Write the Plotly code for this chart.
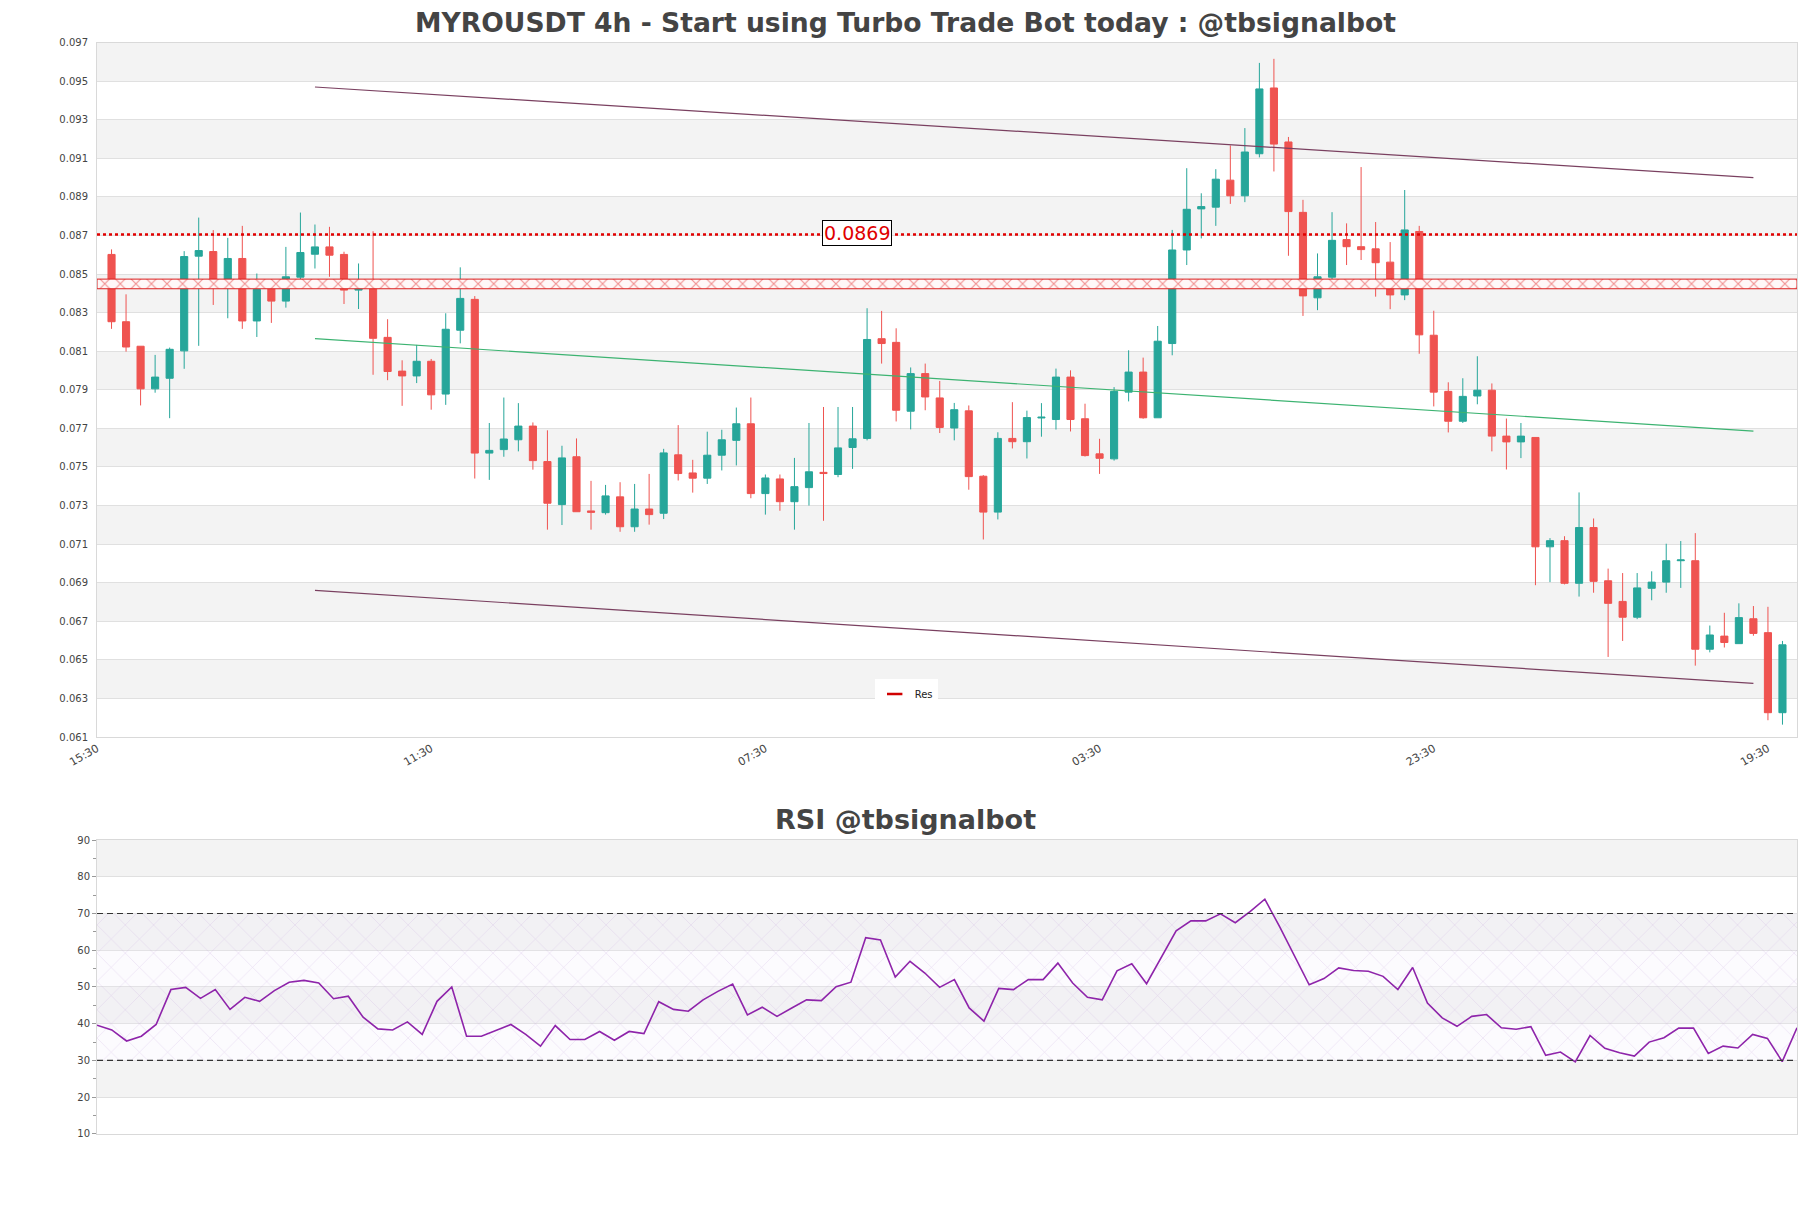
import plotly.graph_objects as go

# ---------------- data ----------------
opens = [0.08602, 0.08253, 0.08126, 0.07905, 0.0796, 0.08102, 0.08593, 0.08617, 0.08448, 0.08581,
         0.08257, 0.08426, 0.0836, 0.08484, 0.08603, 0.08641, 0.08602, 0.08417, 0.08438, 0.08172,
         0.07997, 0.07972, 0.08048, 0.07878, 0.08209, 0.08369, 0.07572, 0.0759, 0.07641, 0.07712,
         0.07528, 0.07305, 0.07553, 0.07272, 0.07263, 0.07345, 0.0719, 0.07282, 0.0726, 0.07563,
         0.07469, 0.07442, 0.07561, 0.07638, 0.07724, 0.07362, 0.07438, 0.0732, 0.07393, 0.07472,
         0.07461, 0.07601, 0.07648, 0.08165, 0.08146, 0.07789, 0.07984, 0.07858, 0.07702, 0.07791,
         0.07452, 0.07266, 0.07648, 0.07631, 0.07754, 0.07746, 0.07966, 0.0775, 0.07568, 0.07542,
         0.07888, 0.07992, 0.07755, 0.0814, 0.08625, 0.08838, 0.08847, 0.08987, 0.08906, 0.09124,
         0.09465, 0.09185, 0.0882, 0.08377, 0.08484, 0.08679, 0.08642, 0.08631, 0.08562, 0.08392,
         0.08721, 0.08183, 0.07892, 0.07737, 0.07868, 0.07898, 0.0766, 0.0763, 0.07653, 0.07086,
         0.07118, 0.06897, 0.07186, 0.0691, 0.06803, 0.06721, 0.06871, 0.06903, 0.07014, 0.07014,
         0.06555, 0.06623, 0.06584, 0.06713, 0.06641, 0.06226]
highs = [0.08628, 0.08395, 0.08126, 0.08081, 0.08119, 0.08619, 0.08793, 0.08728, 0.08688, 0.0875,
         0.08503, 0.08426, 0.08641, 0.08819, 0.08757, 0.08745, 0.08616, 0.08555, 0.08722, 0.08266,
         0.08053, 0.08133, 0.0806, 0.08297, 0.08535, 0.08386, 0.07728, 0.0786, 0.07831, 0.07731,
         0.0769, 0.0761, 0.07648, 0.07428, 0.07407, 0.07421, 0.07412, 0.07464, 0.07594, 0.07717,
         0.07537, 0.07683, 0.07693, 0.07808, 0.0786, 0.07461, 0.07461, 0.07547, 0.07728, 0.07811,
         0.07811, 0.07811, 0.08323, 0.08309, 0.08219, 0.08016, 0.08036, 0.07946, 0.07832, 0.07819,
         0.07458, 0.0768, 0.07836, 0.07792, 0.07831, 0.0801, 0.08001, 0.07828, 0.07646, 0.07914,
         0.08105, 0.08067, 0.08231, 0.08729, 0.09049, 0.08919, 0.09044, 0.09167, 0.09257, 0.09595,
         0.09616, 0.09211, 0.08885, 0.08607, 0.08821, 0.08763, 0.09055, 0.0877, 0.08666, 0.08936,
         0.0875, 0.0831, 0.07939, 0.0796, 0.08074, 0.07933, 0.07751, 0.07728, 0.07653, 0.07131,
         0.07141, 0.07368, 0.07233, 0.06973, 0.0695, 0.0695, 0.06959, 0.07102, 0.07116, 0.07157,
         0.06678, 0.06744, 0.06793, 0.06779, 0.06775, 0.06598]
lows = [0.08216, 0.08098, 0.07819, 0.07885, 0.07753, 0.08009, 0.08128, 0.0834, 0.08271, 0.08216,
        0.08174, 0.08247, 0.08326, 0.08464, 0.08529, 0.08486, 0.08345, 0.08319, 0.07978, 0.0795,
        0.07817, 0.07935, 0.07797, 0.07822, 0.08141, 0.0744, 0.07433, 0.07553, 0.07581, 0.07486,
        0.07175, 0.07199, 0.07268, 0.07175, 0.07253, 0.07164, 0.07164, 0.07201, 0.0723, 0.0743,
        0.07367, 0.07412, 0.07482, 0.07508, 0.07338, 0.07253, 0.07273, 0.07175, 0.073, 0.07221,
        0.07447, 0.0749, 0.07638, 0.08036, 0.07736, 0.07695, 0.07794, 0.07676, 0.07638, 0.07382,
        0.07124, 0.07228, 0.07596, 0.07544, 0.07657, 0.07694, 0.07684, 0.07554, 0.07464, 0.07533,
        0.0784, 0.0775, 0.07755, 0.08079, 0.08547, 0.08685, 0.0875, 0.08864, 0.08873, 0.09105,
        0.09032, 0.08595, 0.08283, 0.08313, 0.08451, 0.08547, 0.08573, 0.08383, 0.08318, 0.08365,
        0.08087, 0.07814, 0.07679, 0.07728, 0.07825, 0.07581, 0.07487, 0.07546, 0.06887, 0.06903,
        0.06891, 0.06828, 0.06848, 0.06515, 0.06598, 0.06711, 0.06809, 0.06848, 0.06873, 0.0647,
        0.06539, 0.06564, 0.06584, 0.06625, 0.06187, 0.06164]
closes = [0.08253, 0.08122, 0.07905, 0.07966, 0.0811, 0.08591, 0.08622, 0.08443, 0.08581, 0.08257,
          0.08421, 0.0836, 0.08486, 0.08612, 0.08641, 0.08598, 0.08417, 0.08436, 0.08167, 0.07995,
          0.07972, 0.08048, 0.07874, 0.08214, 0.08374, 0.07572, 0.07586, 0.07645, 0.07712, 0.07533,
          0.07312, 0.07547, 0.07268, 0.07265, 0.0735, 0.0719, 0.07282, 0.07253, 0.07573, 0.07466,
          0.07442, 0.07561, 0.07641, 0.07724, 0.07362, 0.07443, 0.0732, 0.07398, 0.07475, 0.07466,
          0.07599, 0.07646, 0.08161, 0.0814, 0.07794, 0.07984, 0.07863, 0.07705, 0.07797, 0.0745,
          0.07266, 0.07648, 0.07631, 0.07756, 0.07758, 0.07966, 0.07746, 0.07559, 0.07545, 0.07892,
          0.07992, 0.07755, 0.08152, 0.08625, 0.08836, 0.0885, 0.08992, 0.08906, 0.09133, 0.0946,
          0.09174, 0.08824, 0.08387, 0.08486, 0.08675, 0.08642, 0.08627, 0.08559, 0.08392, 0.08729,
          0.08185, 0.07888, 0.07737, 0.07866, 0.07898, 0.0766, 0.0763, 0.0766, 0.07086, 0.07118,
          0.06897, 0.07186, 0.06907, 0.06793, 0.06721, 0.06873, 0.06903, 0.07014, 0.07018, 0.06555,
          0.06629, 0.0659, 0.06719, 0.06637, 0.06226, 0.06578]

rsi = [39.6, 38.3, 35.3, 36.6, 39.8, 49.3, 49.9, 46.9, 49.3, 43.9,
       47.2, 46.1, 49.0, 51.3, 51.8, 51.1, 46.8, 47.5, 41.8, 38.6,
       38.3, 40.5, 37.1, 46.1, 50.0, 36.6, 36.6, 38.3, 39.8, 37.1,
       33.9, 39.5, 35.7, 35.7, 37.9, 35.5, 37.9, 37.3, 46.0, 43.9,
       43.4, 46.5, 48.8, 50.8, 42.4, 44.5, 42.0, 44.3, 46.5, 46.3,
       50.1, 51.3, 63.4, 62.8, 52.7, 57.0, 53.8, 49.9, 52.0, 44.3,
       40.7, 49.6, 49.3, 52.0, 52.0, 56.5, 51.1, 47.2, 46.5, 54.4,
       56.3, 50.9, 57.9, 65.3, 68.0, 68.0, 69.9, 67.5, 70.5, 73.9,
       66.4, 58.3, 50.6, 52.3, 55.2, 54.5, 54.3, 52.9, 49.3, 55.3,
       45.6, 41.6, 39.3, 42.0, 42.5, 38.9, 38.5, 39.2, 31.4, 32.3,
       29.6, 36.8, 33.3, 32.1, 31.2, 35.0, 36.2, 38.8, 38.8, 31.9,
       33.9, 33.4, 37.1, 36.0, 29.7, 38.9]

candle_idx = list(range(len(opens)))
rsi_idx = list(range(len(rsi)))

tick_positions = [-1, 22, 45, 68, 91, 114]
tick_labels = ["15:30", "11:30", "07:30", "03:30", "23:30", "19:30"]

# channel lines
channel_x = [14, 113]
channel_top = [0.0947, 0.0900]
channel_mid = [0.08165, 0.07686]
channel_bot = [0.0686, 0.06378]

res_level = 0.08705
res_label = "0.0869"
zone_low, zone_high = 0.08424, 0.08474

price_ticks = [round(0.061 + 0.002 * k, 3) for k in range(19)]
rsi_ticks = [10, 20, 30, 40, 50, 60, 70, 80, 90]

# ---------------- style ----------------
UP = "#26a69a"
DOWN = "#ef5350"
TXT = "#444444"
FONT = "DejaVu Sans"
BAND = "#f3f3f3"
GRID = "#e0e0e0"

X_MIN, X_MAX = -1, 116

fig = go.Figure()

# X-pattern zone
fig.add_trace(go.Scatter(
    x=[X_MIN, X_MAX, X_MAX, X_MIN, X_MIN],
    y=[zone_low, zone_low, zone_high, zone_high, zone_low],
    mode="lines", fill="toself",
    line=dict(color="rgb(220,30,30)", width=1),
    fillcolor="rgba(255,246,246,1)",
    fillpattern=dict(shape="x", fgcolor="rgb(225,40,40)", bgcolor="rgba(255,248,248,1)",
                     size=11, solidity=0.2),
    hoverinfo="skip", showlegend=False, xaxis="x", yaxis="y"))

# Res dotted line
fig.add_trace(go.Scatter(
    x=[X_MIN, X_MAX], y=[res_level, res_level], mode="lines",
    line=dict(color="rgb(225,0,0)", width=2.5, dash="dot"),
    hoverinfo="skip", showlegend=False, xaxis="x", yaxis="y"))

# channel lines
fig.add_trace(go.Scatter(x=channel_x, y=channel_top, mode="lines",
                         line=dict(color="#7a4060", width=1.2), showlegend=False,
                         hoverinfo="skip", xaxis="x", yaxis="y"))
fig.add_trace(go.Scatter(x=channel_x, y=channel_mid, mode="lines",
                         line=dict(color="#3cb371", width=1.2), showlegend=False,
                         hoverinfo="skip", xaxis="x", yaxis="y"))
fig.add_trace(go.Scatter(x=channel_x, y=channel_bot, mode="lines",
                         line=dict(color="#7a4060", width=1.2), showlegend=False,
                         hoverinfo="skip", xaxis="x", yaxis="y"))

# candles
fig.add_trace(go.Candlestick(
    x=candle_idx, open=opens, high=highs, low=lows, close=closes,
    increasing=dict(line=dict(color=UP, width=1), fillcolor=UP),
    decreasing=dict(line=dict(color=DOWN, width=1), fillcolor=DOWN),
    whiskerwidth=0, showlegend=False, xaxis="x", yaxis="y"))

# legend entry
fig.add_trace(go.Scatter(
    x=[None], y=[None], mode="markers", name="Res",
    marker=dict(symbol="line-ew-open", size=11, color="#d00000",
                line=dict(color="#d00000", width=2.5)),
    showlegend=True, xaxis="x", yaxis="y"))

# RSI pattern zone 30-70
fig.add_trace(go.Scatter(
    x=[0, len(rsi) - 1, len(rsi) - 1, 0, 0], y=[30, 30, 70, 70, 30],
    mode="lines", fill="toself", line=dict(width=0),
    fillcolor="rgba(0,0,0,0)",
    fillpattern=dict(shape="x", fgcolor="rgba(170,120,205,0.5)", bgcolor="rgba(240,235,248,0.2)",
                     size=20, solidity=0.06),
    hoverinfo="skip", showlegend=False, xaxis="x2", yaxis="y2"))

# RSI line
fig.add_trace(go.Scatter(
    x=rsi_idx, y=rsi, mode="lines",
    line=dict(color="#8e24aa", width=1.6),
    showlegend=False, xaxis="x2", yaxis="y2"))

shapes = []
for k in range(len(price_ticks) - 1):
    lo, hi = price_ticks[k], price_ticks[k + 1]
    if (len(price_ticks) - 2 - k) % 2 == 0:
        shapes.append(dict(type="rect", xref="x domain", yref="y", x0=0, x1=1, y0=lo, y1=hi,
                           fillcolor=BAND, line=dict(width=0), layer="below"))
for k in range(len(rsi_ticks) - 1):
    lo, hi = rsi_ticks[k], rsi_ticks[k + 1]
    if (len(rsi_ticks) - 2 - k) % 2 == 0:
        shapes.append(dict(type="rect", xref="x2 domain", yref="y2", x0=0, x1=1, y0=lo, y1=hi,
                           fillcolor=BAND, line=dict(width=0), layer="below"))
for lvl in (30, 70):
    shapes.append(dict(type="line", xref="x2 domain", yref="y2", x0=0, x1=1, y0=lvl, y1=lvl,
                       line=dict(color="#333333", width=1.2, dash="6px,4px"), layer="above"))

annotations = [
    dict(x=51.3, y=res_level, xref="x", yref="y", text=res_label, showarrow=False,
         font=dict(family=FONT, size=19, color="#e00000"), bgcolor="white",
         bordercolor="black", borderwidth=1, borderpad=1, yshift=2),
    dict(x=0.4756, y=0.3212, xref="paper", yref="paper", text="<b>RSI @tbsignalbot</b>",
         showarrow=False, font=dict(family=FONT, size=27, color=TXT),
         xanchor="center", yanchor="middle"),
]

axis_common = dict(showline=True, linecolor="#d9d9d9", linewidth=1, mirror=True, zeroline=False)

fig.update_layout(
    width=1811, height=1208,
    margin=dict(l=97, r=14, t=0, b=0, autoexpand=False),
    paper_bgcolor="white", plot_bgcolor="white",
    font=dict(family=FONT, color=TXT, size=10),
    title=dict(text="<b>MYROUSDT 4h - Start using Turbo Trade Bot today : @tbsignalbot</b>",
               x=0.5, xanchor="center", y=0.981, yanchor="middle",
               font=dict(family=FONT, size=26.6, color=TXT)),
    showlegend=True,
    legend=dict(x=0.476, y=0.4255, xanchor="center", yanchor="middle", orientation="h",
                bgcolor="white", font=dict(family=FONT, size=10, color="#222"),
                itemwidth=30),
    xaxis=dict(domain=[0, 1], anchor="y", range=[X_MIN, X_MAX],
               tickmode="array", tickvals=tick_positions, ticktext=tick_labels,
               tickangle=-30, tickfont=dict(size=11, color=TXT), showgrid=False,
               rangeslider=dict(visible=False), **axis_common),
    yaxis=dict(domain=[0.3899, 0.9647], anchor="x", range=[0.061, 0.097],
               tickmode="array", tickvals=price_ticks, ticktext=[f"{v:.3f}" for v in price_ticks],
               tickfont=dict(size=10, color=TXT), showgrid=True, gridcolor=GRID, gridwidth=1,
               ticklabelstandoff=6, **axis_common),
    xaxis2=dict(domain=[0, 1], anchor="y2", range=[0, len(rsi) - 1], showticklabels=False,
                showgrid=False, **axis_common),
    yaxis2=dict(domain=[0.0613, 0.3046], anchor="x2", range=[10, 90],
                tickmode="array", tickvals=rsi_ticks, tickfont=dict(size=10, color=TXT),
                showgrid=True, gridcolor=GRID, ticks="outside", ticklen=4, tickcolor="#999",
                minor=dict(tickmode="array", tickvals=[15, 25, 35, 45, 55, 65, 75, 85],
                           ticks="outside", ticklen=3, tickcolor="#999", showgrid=False),
                **axis_common),
    shapes=shapes,
    annotations=annotations,
)

fig.write_html("out.html")
